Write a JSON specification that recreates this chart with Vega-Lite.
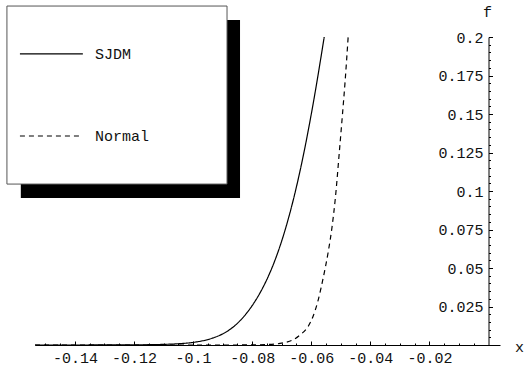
{
  "$schema": "https://vega.github.io/schema/vega-lite/v6.json",
  "width": 465,
  "height": 308,
  "autosize": {"type": "none"},
  "padding": {"left": 35, "top": 37, "right": 25, "bottom": 25},
  "background": "white",
  "config": {
    "view": {"stroke": null},
    "axis": {
      "labelFont": "Liberation Mono",
      "labelFontSize": 15,
      "labelColor": "#111",
      "titleFont": "Liberation Mono",
      "titleFontSize": 15,
      "titleFontWeight": "normal",
      "titleColor": "#111",
      "domainColor": "black",
      "domainWidth": 1,
      "tickColor": "black",
      "tickWidth": 1,
      "grid": false,
      "labelOverlap": false,
      "labelFlush": false,
      "labelBound": false
    },
    "text": {"font": "Liberation Mono", "fontSize": 15, "color": "#111"}
  },
  "datasets": {
    "curves": [
      {"x": -0.1535, "f": 0.0, "series": "SJDM"},
      {"x": -0.14, "f": 0.00001, "series": "SJDM"},
      {"x": -0.13, "f": 0.00003, "series": "SJDM"},
      {"x": -0.12, "f": 0.0001, "series": "SJDM"},
      {"x": -0.11, "f": 0.0004, "series": "SJDM"},
      {"x": -0.1044, "f": 0.0009, "series": "SJDM"},
      {"x": -0.1, "f": 0.0017, "series": "SJDM"},
      {"x": -0.0932, "f": 0.0046, "series": "SJDM"},
      {"x": -0.09, "f": 0.0072, "series": "SJDM"},
      {"x": -0.0864, "f": 0.0117, "series": "SJDM"},
      {"x": -0.0819, "f": 0.0206, "series": "SJDM"},
      {"x": -0.078, "f": 0.0316, "series": "SJDM"},
      {"x": -0.075, "f": 0.0426, "series": "SJDM"},
      {"x": -0.072, "f": 0.0564, "series": "SJDM"},
      {"x": -0.0689, "f": 0.0743, "series": "SJDM"},
      {"x": -0.0661, "f": 0.094, "series": "SJDM"},
      {"x": -0.0621, "f": 0.1285, "series": "SJDM"},
      {"x": -0.0593, "f": 0.1572, "series": "SJDM"},
      {"x": -0.0556, "f": 0.2, "series": "SJDM"},
      {"x": -0.1535, "f": 0.0, "series": "Normal"},
      {"x": -0.09, "f": 0.0, "series": "Normal"},
      {"x": -0.08, "f": 0.00005, "series": "Normal"},
      {"x": -0.075, "f": 0.0003, "series": "Normal"},
      {"x": -0.0706, "f": 0.0010, "series": "Normal"},
      {"x": -0.0685, "f": 0.0018, "series": "Normal"},
      {"x": -0.066, "f": 0.0035, "series": "Normal"},
      {"x": -0.0638, "f": 0.0065, "series": "Normal"},
      {"x": -0.061, "f": 0.0122, "series": "Normal"},
      {"x": -0.0593, "f": 0.019, "series": "Normal"},
      {"x": -0.0576, "f": 0.0295, "series": "Normal"},
      {"x": -0.0559, "f": 0.044, "series": "Normal"},
      {"x": -0.0542, "f": 0.061, "series": "Normal"},
      {"x": -0.053, "f": 0.076, "series": "Normal"},
      {"x": -0.0518, "f": 0.096, "series": "Normal"},
      {"x": -0.0505, "f": 0.125, "series": "Normal"},
      {"x": -0.0495, "f": 0.148, "series": "Normal"},
      {"x": -0.0485, "f": 0.172, "series": "Normal"},
      {"x": -0.0475, "f": 0.2, "series": "Normal"}
    ]
  },
  "layer": [
    {
      "data": {"name": "curves"},
      "mark": {"type": "line", "color": "black", "strokeWidth": 1.2, "interpolate": "monotone", "clip": false},
      "encoding": {
        "x": {
          "field": "x", "type": "quantitative",
          "scale": {"domain": [-0.1535, 0.0039], "nice": false, "zero": false},
          "axis": {
            "orient": "bottom",
            "title": "x",
            "titleX": 484,
            "titleY": 1,
            "titleAlign": "center",
            "titleBaseline": "middle",
            "titleAnchor": null,
            "tickCount": 500,
            "values": [-0.15, -0.145, -0.14, -0.135, -0.13, -0.125, -0.12, -0.115, -0.11, -0.105, -0.1, -0.095, -0.09, -0.085, -0.08, -0.075, -0.07, -0.065, -0.06, -0.055, -0.05, -0.045, -0.04, -0.035, -0.03, -0.025, -0.02, -0.015, -0.01, -0.005],
            "tickSize": {"condition": {"test": "round(datum.value*1000) % 20 == 0", "value": -4}, "value": -2},
            "labelExpr": "round(datum.value*1000) % 20 == 0 ? '' + datum.value : ''",
            "labelPadding": 9,
            "labelOverlap": false,
            "labelFlush": false
          }
        },
        "y": {
          "field": "f", "type": "quantitative",
          "scale": {"domain": [0, 0.2], "nice": false},
          "axis": {
            "orient": "left",
            "offset": -453.5,
            "title": "f",
            "titleAngle": 0,
            "titleX": -1.5,
            "titleY": -21,
            "titleAlign": "center",
            "titleBaseline": "alphabetic",
            "titleAnchor": null,
            "tickCount": 500,
            "values": [0.005, 0.01, 0.015, 0.02, 0.025, 0.03, 0.035, 0.04, 0.045, 0.05, 0.055, 0.06, 0.065, 0.07, 0.075, 0.08, 0.085, 0.09, 0.095, 0.1, 0.105, 0.11, 0.115, 0.12, 0.125, 0.13, 0.135, 0.14, 0.145, 0.15, 0.155, 0.16, 0.165, 0.17, 0.175, 0.18, 0.185, 0.19, 0.195, 0.2],
            "tickSize": {"condition": {"test": "round(datum.value*1000) % 25 == 0", "value": -4}, "value": -2},
            "labelExpr": "round(datum.value*1000) % 25 == 0 ? '' + datum.value : ''",
            "labelPadding": 9.5,
            "labelOverlap": false
          }
        },
        "strokeDash": {
          "field": "series", "type": "nominal",
          "scale": {"domain": ["SJDM", "Normal"], "range": [[1, 0], [5, 4]]},
          "legend": null
        }
      }
    },
    {
      "data": {"values": [{}]},
      "mark": {"type": "rect", "fill": "black"},
      "encoding": {
        "x": {"datum": -0.1583, "type": "quantitative"},
        "x2": {"datum": -0.0841},
        "y": {"datum": 0.2110, "type": "quantitative"},
        "y2": {"datum": 0.0955}
      }
    },
    {
      "data": {"values": [{}]},
      "mark": {"type": "rect", "fill": "white", "stroke": "#555", "strokeWidth": 1},
      "encoding": {
        "x": {"datum": -0.1630, "type": "quantitative"},
        "x2": {"datum": -0.0885},
        "y": {"datum": 0.2201, "type": "quantitative"},
        "y2": {"datum": 0.1045}
      }
    },
    {
      "data": {"values": [{}]},
      "mark": {"type": "rule", "color": "black", "strokeWidth": 1.2},
      "encoding": {
        "x": {"datum": -0.1586, "type": "quantitative"},
        "x2": {"datum": -0.1373},
        "y": {"datum": 0.1890, "type": "quantitative"}
      }
    },
    {
      "data": {"values": [{}]},
      "mark": {"type": "rule", "color": "black", "strokeWidth": 1.2, "strokeDash": [5, 4]},
      "encoding": {
        "x": {"datum": -0.1586, "type": "quantitative"},
        "x2": {"datum": -0.1373},
        "y": {"datum": 0.1357, "type": "quantitative"}
      }
    },
    {
      "data": {"values": [{"label": "SJDM"}]},
      "mark": {"type": "text", "align": "left", "baseline": "middle"},
      "encoding": {
        "x": {"datum": -0.1332, "type": "quantitative"},
        "y": {"datum": 0.1890, "type": "quantitative"},
        "text": {"field": "label"}
      }
    },
    {
      "data": {"values": [{"label": "Normal"}]},
      "mark": {"type": "text", "align": "left", "baseline": "middle"},
      "encoding": {
        "x": {"datum": -0.1332, "type": "quantitative"},
        "y": {"datum": 0.1357, "type": "quantitative"},
        "text": {"field": "label"}
      }
    }
  ]
}
